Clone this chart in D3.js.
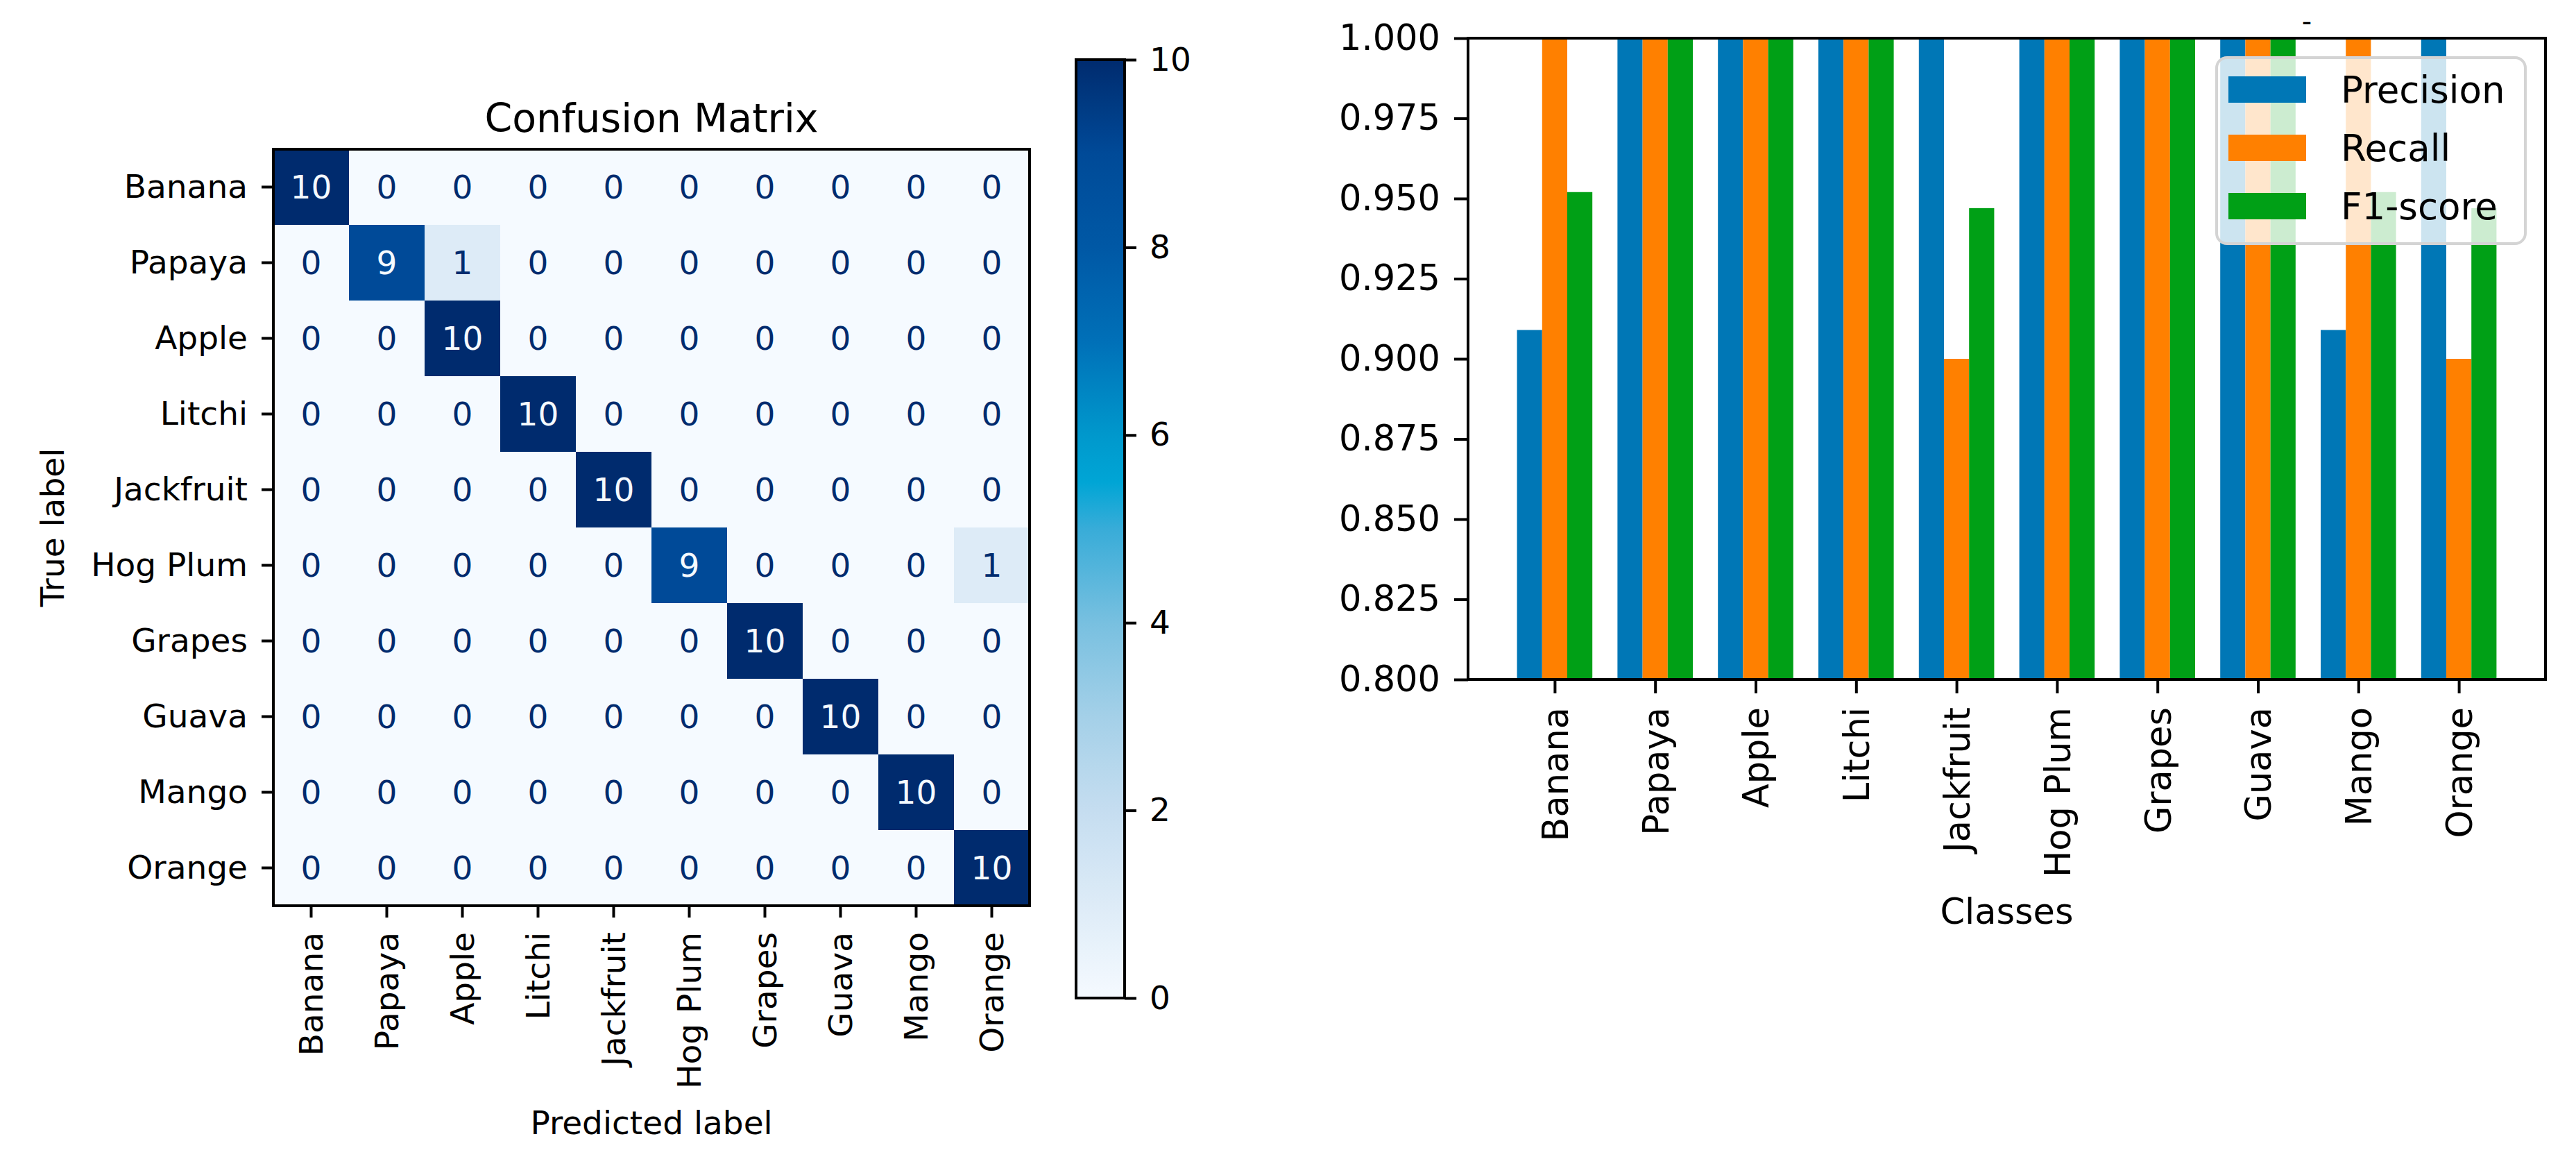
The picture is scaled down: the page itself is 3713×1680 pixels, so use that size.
<!DOCTYPE html>
<html lang="en">
  <head>
    <meta charset="utf-8">
    <title>Confusion matrix and scores</title>
    <style>
    body { margin: 0; background: #fff; }
    text { font-family: "DejaVu Sans", sans-serif; }
    .axis path { display: none; }
    .axis line { stroke: #000; stroke-width: 4; }
    </style>
    <script type="text/javascript" src="https://cdn.jsdelivr.net/npm/d3@7/dist/d3.min.js"></script>
  </head>
  <body>
    <script type="text/javascript">

      // Classes (same order on both charts)
      var classes = ["Banana", "Papaya", "Apple", "Litchi", "Jackfruit",
                     "Hog Plum", "Grapes", "Guava", "Mango", "Orange"];

      // Confusion matrix, one row per true label
      var row_banana    = [10, 0, 0, 0, 0, 0, 0, 0, 0, 0];
      var row_papaya    = [0, 9, 1, 0, 0, 0, 0, 0, 0, 0];
      var row_apple     = [0, 0, 10, 0, 0, 0, 0, 0, 0, 0];
      var row_litchi    = [0, 0, 0, 10, 0, 0, 0, 0, 0, 0];
      var row_jackfruit = [0, 0, 0, 0, 10, 0, 0, 0, 0, 0];
      var row_hogplum   = [0, 0, 0, 0, 0, 9, 0, 0, 0, 1];
      var row_grapes    = [0, 0, 0, 0, 0, 0, 10, 0, 0, 0];
      var row_guava     = [0, 0, 0, 0, 0, 0, 0, 10, 0, 0];
      var row_mango     = [0, 0, 0, 0, 0, 0, 0, 0, 10, 0];
      var row_orange    = [0, 0, 0, 0, 0, 0, 0, 0, 0, 10];
      var matrix = [row_banana, row_papaya, row_apple, row_litchi, row_jackfruit,
                    row_hogplum, row_grapes, row_guava, row_mango, row_orange];

      var colorbarTicks = [0, 2, 4, 6, 8, 10];

      // Scores per class
      var precision = [0.909, 1, 1, 1, 1, 1, 1, 1, 0.909, 1];
      var recall    = [1, 1, 1, 1, 0.9, 1, 1, 1, 1, 0.9];
      var f1score   = [0.952, 1, 1, 1, 0.947, 1, 1, 1, 0.952, 0.947];
      var seriesNames = ["Precision", "Recall", "F1-score"];
      var scoreTicks = [0.800, 0.825, 0.850, 0.875, 0.900, 0.925, 0.950, 0.975, 1.000];

      var svg = d3.select("body")
          .append("svg")
          .attr("width", 3713)
          .attr("height", 1680);

      // ---------- Confusion matrix ----------
      var cm = { left: 394, top: 215, size: 1090, font: 47 };

      // Blues, as it appears (a bit more saturated than the stock map)
      var blues = d3.scaleLinear()
          .domain([0, 1, 2, 3, 4, 5, 5.5, 6, 7, 8, 9, 10])
          .range(["#f5faff", "#ddebf7", "#c5ddf0", "#a4d0e8", "#78c0e0", "#38acd8",
                  "#00a5d5", "#0098cc", "#0070b8", "#0058a5", "#004a98", "#002b6e"])
          .interpolate(d3.interpolateRgb);

      var xCm = d3.scaleBand().domain(classes).range([cm.left, cm.left + cm.size]);
      var yCm = d3.scaleBand().domain(classes).range([cm.top, cm.top + cm.size]);

      var cells = [];
      matrix.forEach(function(row, i) {
        row.forEach(function(v, j) {
          cells.push({ t: classes[i], p: classes[j], v: v });
        });
      });

      var gcm = svg.append("g");
      gcm.selectAll("rect.cell")
        .data(cells)
        .enter()
        .append("rect")
        .attr("class", "cell")
        .attr("x", d => xCm(d.p))
        .attr("y", d => yCm(d.t))
        .attr("width", xCm.bandwidth() + 0.5)
        .attr("height", yCm.bandwidth() + 0.5)
        .attr("fill", d => blues(d.v));

      gcm.selectAll("text.val")
        .data(cells)
        .enter()
        .append("text")
        .attr("class", "val")
        .attr("x", d => xCm(d.p) + xCm.bandwidth() / 2)
        .attr("y", d => yCm(d.t) + yCm.bandwidth() / 2)
        .attr("dy", "0.36em")
        .attr("text-anchor", "middle")
        .attr("font-size", cm.font)
        .attr("fill", d => d.v > 5 ? "#f5faff" : "#002b6e")
        .text(d => d.v);

      gcm.append("rect")
        .attr("x", cm.left).attr("y", cm.top)
        .attr("width", cm.size).attr("height", cm.size)
        .attr("fill", "none").attr("stroke", "#000").attr("stroke-width", 4);

      var yAxisCm = gcm.append("g")
          .attr("class", "axis")
          .attr("transform", "translate(" + cm.left + ",0)")
          .call(d3.axisLeft(yCm).tickSize(17).tickPadding(20));
      yAxisCm.selectAll("text").attr("font-size", cm.font).attr("fill", "#000")
          .style("font-family", "DejaVu Sans");

      var xAxisCm = gcm.append("g")
          .attr("class", "axis")
          .attr("transform", "translate(0," + (cm.top + cm.size) + ")")
          .call(d3.axisBottom(xCm).tickSize(17));
      xAxisCm.selectAll("text")
          .attr("font-size", cm.font).attr("fill", "#000")
          .style("font-family", "DejaVu Sans")
          .attr("transform", "rotate(-90)")
          .attr("x", -38).attr("y", 0).attr("dy", "0.36em")
          .attr("text-anchor", "end");

      gcm.append("text")
        .attr("x", cm.left + cm.size / 2).attr("y", 190)
        .attr("text-anchor", "middle").attr("font-size", 57)
        .text("Confusion Matrix");

      gcm.append("text")
        .attr("x", cm.left + cm.size / 2).attr("y", 1634)
        .attr("text-anchor", "middle").attr("font-size", cm.font)
        .text("Predicted label");

      gcm.append("text")
        .attr("transform", "translate(92," + (cm.top + cm.size / 2) + ") rotate(-90)")
        .attr("text-anchor", "middle").attr("font-size", cm.font)
        .text("True label");

      // Colorbar
      var cb = { left: 1551, right: 1621, top: 86, bottom: 1438 };
      var grad = svg.append("defs").append("linearGradient")
          .attr("id", "cbgrad")
          .attr("x1", 0).attr("y1", 1).attr("x2", 0).attr("y2", 0);
      grad.selectAll("stop")
        .data(d3.range(0, 10.01, 0.25))
        .enter()
        .append("stop")
        .attr("offset", d => d / 10)
        .attr("stop-color", d => blues(d));

      svg.append("rect")
        .attr("x", cb.left).attr("y", cb.top)
        .attr("width", cb.right - cb.left).attr("height", cb.bottom - cb.top)
        .attr("fill", "url(#cbgrad)")
        .attr("stroke", "#000").attr("stroke-width", 4);

      var yCb = d3.scaleLinear().domain([0, 10]).range([cb.bottom, cb.top]);
      var cbAxis = svg.append("g")
          .attr("class", "axis")
          .attr("transform", "translate(" + cb.right + ",0)")
          .call(d3.axisRight(yCb).tickValues(colorbarTicks).tickSize(17).tickPadding(19));
      cbAxis.selectAll("text").attr("font-size", cm.font).attr("fill", "#000")
          .style("font-family", "DejaVu Sans");

      // ---------- Scores bar chart ----------
      var bc = { left: 2116, right: 3669, top: 55, bottom: 979, font: 51 };
      var barW = 0.25;

      var xBc = d3.scaleLinear().domain([-0.8625, 9.8625]).range([bc.left, bc.right]);
      var yBc = d3.scaleLinear().domain([0.8, 1.0]).range([bc.bottom, bc.top]);
      var colors = ["#0077b6", "#ff8000", "#00a016"];
      var series = [precision, recall, f1score];

      svg.append("clipPath").attr("id", "plotclip")
        .append("rect")
        .attr("x", bc.left).attr("y", bc.top)
        .attr("width", bc.right - bc.left).attr("height", bc.bottom - bc.top);

      var gbc = svg.append("g");
      var bars = gbc.append("g").attr("clip-path", "url(#plotclip)");
      series.forEach(function(vals, s) {
        bars.selectAll("rect.s" + s)
          .data(vals)
          .enter()
          .append("rect")
          .attr("class", "s" + s)
          .attr("x", (d, i) => xBc(i + (s - 1) * barW - barW / 2))
          .attr("width", xBc(barW) - xBc(0))
          .attr("y", d => yBc(d))
          .attr("height", d => yBc(0.8) - yBc(d) + 10)
          .attr("fill", colors[s]);
      });

      var yAxisBc = gbc.append("g")
          .attr("class", "axis")
          .attr("transform", "translate(" + bc.left + ",0)")
          .call(d3.axisLeft(yBc).tickValues(scoreTicks).tickFormat(d3.format(".3f"))
                .tickSize(20).tickPadding(20));
      yAxisBc.selectAll("text").attr("font-size", bc.font).attr("fill", "#000")
          .style("font-family", "DejaVu Sans");

      var xAxisBc = gbc.append("g")
          .attr("class", "axis")
          .attr("transform", "translate(0," + bc.bottom + ")")
          .call(d3.axisBottom(xBc).tickValues(d3.range(classes.length))
                .tickFormat(i => classes[i]).tickSize(20));
      xAxisBc.selectAll("text")
          .attr("font-size", bc.font).attr("fill", "#000")
          .style("font-family", "DejaVu Sans")
          .attr("transform", "rotate(-90)")
          .attr("x", -40).attr("y", 0).attr("dy", "0.36em")
          .attr("text-anchor", "end");

      gbc.append("rect")
        .attr("x", bc.left).attr("y", bc.top)
        .attr("width", bc.right - bc.left).attr("height", bc.bottom - bc.top)
        .attr("fill", "none").attr("stroke", "#000").attr("stroke-width", 4);

      gbc.append("text")
        .attr("x", (bc.left + bc.right) / 2).attr("y", 1331)
        .attr("text-anchor", "middle").attr("font-size", bc.font)
        .text("Classes");

      // tiny mark above the plot
      gbc.append("text")
        .attr("x", 3325).attr("y", 45)
        .attr("text-anchor", "middle").attr("font-size", 40)
        .text("-");

      // Legend
      var lg = gbc.append("g");
      lg.append("rect")
        .attr("x", 3195).attr("y", 83)
        .attr("width", 445).attr("height", 268)
        .attr("rx", 15).attr("ry", 15)
        .attr("fill", "#fff").attr("fill-opacity", 0.8)
        .attr("stroke", "#d4d4d4").attr("stroke-width", 4);
      var items = lg.selectAll("g.item")
        .data(seriesNames)
        .enter()
        .append("g")
        .attr("class", "item")
        .attr("transform", (d, i) => "translate(3212," + (110 + i * 84) + ")");
      items.append("rect")
        .attr("width", 112).attr("height", 38)
        .attr("fill", (d, i) => colors[i]);
      items.append("text")
        .attr("x", 162).attr("y", 19).attr("dy", "0.36em")
        .attr("font-size", 53)
        .text(d => d);

    </script>
  </body>
</html>
